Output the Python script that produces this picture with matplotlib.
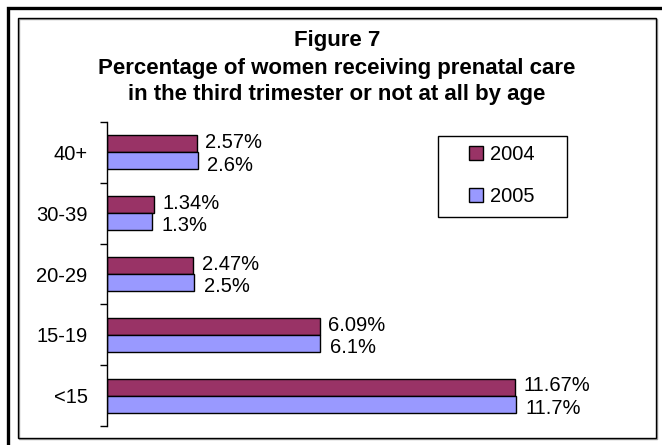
import matplotlib
matplotlib.use("Agg")
import matplotlib.pyplot as plt
from matplotlib.patches import Rectangle, Patch
import numpy as np

categories = ["<15", "15-19", "20-29", "30-39", "40+"]
values_2004 = [11.67, 6.09, 2.47, 1.34, 2.57]
values_2005 = [11.7, 6.1, 2.5, 1.3, 2.6]
labels_2004 = ["11.67%", "6.09%", "2.47%", "1.34%", "2.57%"]
labels_2005 = ["11.7%", "6.1%", "2.5%", "1.3%", "2.6%"]
series_names = ["2004", "2005"]
title_lines = ["Figure 7",
               "Percentage of women receiving prenatal care",
               "in the third trimester or not at all by age"]

plt.rcParams['font.family'] = ['Liberation Sans', 'DejaVu Sans']

W, H = 662, 445
fig = plt.figure(figsize=(W / 100, H / 100), dpi=100)
fig.patch.set_facecolor("white")

def fx(x):
    return x / W

def fy(y):
    return 1 - y / H

# axes area in pixels
ax_left, ax_right, ax_top, ax_bottom = 107, 597, 122, 426
ax = fig.add_axes([fx(ax_left), fy(ax_bottom), fx(ax_right) - fx(ax_left), fy(ax_top) - fy(ax_bottom)])
ax.set_facecolor("none")

c2004 = "#993366"
c2005 = "#9999FF"
bh = 0.28
y = np.arange(len(categories))
ax.barh(y + bh / 2, values_2004, height=bh, color=c2004, edgecolor="black", linewidth=1.0, label=series_names[0])
ax.barh(y - bh / 2, values_2005, height=bh, color=c2005, edgecolor="black", linewidth=1.0, label=series_names[1])

ax.set_xlim(0, 14)
ax.set_ylim(-0.5, len(categories) - 0.5)

for yi, v, lab in zip(y, values_2004, labels_2004):
    ax.annotate(lab, (v, yi + bh / 2), xytext=(6, 0.8), textcoords="offset points",
                ha="left", va="center", fontsize=14.5)
for yi, v, lab in zip(y, values_2005, labels_2005):
    ax.annotate(lab, (v, yi - bh / 2), xytext=(6.5, -3.0), textcoords="offset points",
                ha="left", va="center", fontsize=14.5)

for s in ["top", "right", "bottom"]:
    ax.spines[s].set_visible(False)
ax.spines["left"].set_linewidth(1.0)
ax.set_xticks([])
ax.set_yticks(y)
ax.set_yticklabels(categories, fontsize=14.5)
ax.tick_params(axis="y", which="major", length=0, pad=14)
ax.set_yticks(np.arange(-0.5, len(categories)), minor=True)
ax.tick_params(axis="y", which="minor", length=5, width=1.0, direction="out")

# title
baselines = [46, 74, 100]
for line, yb in zip(title_lines, baselines):
    fig.text(0.5 * (fx(18) + fx(656)), fy(yb), line, ha="center", va="baseline",
             fontsize=16, fontweight="bold")

# legend
handles = [Patch(facecolor=c2004, edgecolor="black", linewidth=1.0),
           Patch(facecolor=c2005, edgecolor="black", linewidth=1.0)]
fig.legend(handles, series_names, loc="upper left",
           bbox_to_anchor=(fx(469), fy(145)), frameon=False, fontsize=14.5,
           handlelength=0.7, handleheight=0.7, handletextpad=0.35,
           labelspacing=1.15, borderpad=0, borderaxespad=0)
fig.add_artist(Rectangle((fx(438), fy(217)), fx(567) - fx(438), fy(136) - fy(217),
                         transform=fig.transFigure, fill=False, edgecolor="black", linewidth=1.0))

# frames
fig.add_artist(Rectangle((fx(19), fy(439)), fx(657) - fx(19), fy(19) - fy(439),
                         transform=fig.transFigure, fill=False, edgecolor="#a0a0a0", linewidth=1.0))
fig.add_artist(Rectangle((fx(18), fy(438)), fx(656) - fx(18), fy(18) - fy(438),
                         transform=fig.transFigure, fill=False, edgecolor="black", linewidth=1.0))
fig.add_artist(Rectangle((fx(7.5), fy(460)), fx(680) - fx(7.5), fy(7.5) - fy(460),
                         transform=fig.transFigure, fill=False, edgecolor="black", linewidth=2.4,
                         clip_on=False))

fig.savefig("out.png", dpi=100, facecolor="white")
